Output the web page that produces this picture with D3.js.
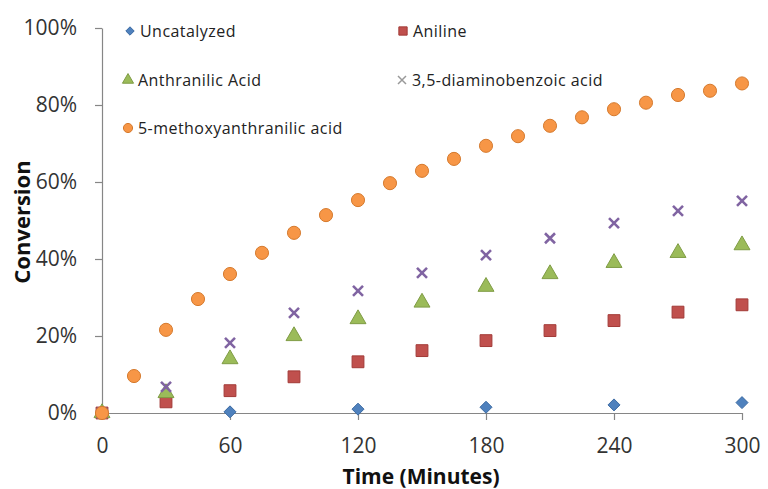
<!DOCTYPE html>
<html><head><meta charset="utf-8">
<script src="https://cdn.jsdelivr.net/npm/d3@7"></script>
<style>body{margin:0;background:#fff}svg{display:block}</style>
</head><body>
<svg id="c" width="768" height="489"></svg>
<script>
const xTicks = [0, 60, 120, 180, 240, 300];
const yTicks = [0, 0.2, 0.4, 0.6, 0.8, 1.0];
const seriesNames = ["Uncatalyzed", "Aniline", "Anthranilic Acid", "3,5-diaminobenzoic acid", "5-methoxyanthranilic acid"];
const uncatT = [0, 60, 120, 180, 240, 300];
const uncatV = [0, 0.003, 0.010, 0.015, 0.021, 0.027];
const t30 = [0, 30, 60, 90, 120, 150, 180, 210, 240, 270, 300];
const anilineV = [0, 0.029, 0.058, 0.094, 0.133, 0.162, 0.188, 0.214, 0.240, 0.262, 0.281];
const anthranilicV = [0, 0.052, 0.140, 0.200, 0.244, 0.287, 0.328, 0.361, 0.390, 0.416, 0.436];
const diaminoV = [0, 0.068, 0.182, 0.260, 0.317, 0.364, 0.410, 0.454, 0.493, 0.525, 0.551];
const t15 = [0, 15, 30, 45, 60, 75, 90, 105, 120, 135, 150, 165, 180, 195, 210, 225, 240, 255, 270, 285, 300];
const methoxyV = [0, 0.096, 0.216, 0.296, 0.361, 0.416, 0.468, 0.514, 0.553, 0.597, 0.629, 0.660, 0.694, 0.719, 0.746, 0.768, 0.789, 0.806, 0.826, 0.837, 0.856];

const svg = d3.select("#c");
const x = d3.scaleLinear().domain([0, 300]).range([102, 742]);
const y = d3.scaleLinear().domain([0, 1]).range([413, 28]);
const font = "'Open Sans', sans-serif";

const xAxis = svg.append("g").attr("transform", "translate(0,413)")
  .call(d3.axisBottom(x).tickValues(xTicks).tickSize(7).tickSizeOuter(0).tickFormat(d3.format("d")));
const yAxis = svg.append("g").attr("transform", "translate(102,0)")
  .call(d3.axisLeft(y).tickValues(yTicks).tickSize(7).tickSizeOuter(0).tickFormat(d3.format(".0%")));
[xAxis, yAxis].forEach(g => {
  g.selectAll("path,line").attr("stroke", "#868686").attr("stroke-width", 1.2);
  g.selectAll("text").attr("fill", "#333").style("font-family", font).style("font-size", "21px");
});
xAxis.selectAll("text").attr("y", 25).attr("dy", "0.71em");
yAxis.selectAll("text").attr("x", -25);

svg.append("text").attr("x", 421).attr("y", 484).attr("text-anchor", "middle")
  .style("font-family", font).style("font-weight", "bold").style("font-size", "21px").attr("fill", "#111")
  .text("Time (Minutes)");
svg.append("text").attr("transform", "translate(30,222) rotate(-90)").attr("text-anchor", "middle")
  .style("font-family", font).style("font-weight", "bold").style("font-size", "22px").attr("fill", "#111")
  .text("Conversion");

const colors = ["#4F81BD", "#C0504D", "#9BBB59", "#8064A2", "#F79646"];
const strokes = ["#3b6aa3", "#a23a37", "#7f9c45", "#5f4a85", "#d57a2e"];
const symbols = [null, d3.symbolSquare, d3.symbolTriangle, null, d3.symbolCircle];
const sizes = [0, 140, 110, 0, 135];

function drawMarker(g, i, cx, cy, scale) {
  const s = scale || 1;
  if (i === 3) {
    const r = 5 * s;
    g.append("path").attr("d", `M${cx - r},${cy - r}L${cx + r},${cy + r}M${cx - r},${cy + r}L${cx + r},${cy - r}`)
      .attr("stroke", colors[3]).attr("stroke-width", 2.6 * s).attr("fill", "none");
  } else if (i === 0) {
    const r = 6 * s;
    g.append("path").attr("d", `M${cx},${cy - r}L${cx + r},${cy}L${cx},${cy + r}L${cx - r},${cy}Z`)
      .attr("fill", colors[0]).attr("stroke", strokes[0]).attr("stroke-width", 1);
  } else {
    const sym = d3.symbol().type(symbols[i]).size(sizes[i] * s * s);
    g.append("path").attr("d", sym()).attr("transform", `translate(${cx},${cy})`)
      .attr("fill", colors[i]).attr("stroke", strokes[i]).attr("stroke-width", 1);
  }
}

const data = [
  uncatT.map((t, k) => [t, uncatV[k]]),
  t30.map((t, k) => [t, anilineV[k]]),
  t30.map((t, k) => [t, anthranilicV[k]]),
  t30.map((t, k) => [t, diaminoV[k]]),
  t15.map((t, k) => [t, methoxyV[k]])
];
const marks = svg.append("g");
data.forEach((pts, i) => {
  const g = marks.append("g");
  pts.forEach(p => drawMarker(g, i, x(p[0]), y(p[1])));
});

// legend
const legendPos = [[130, 31], [403, 31], [128, 80], [402, 80], [128, 128]];
const leg = svg.append("g");
seriesNames.forEach((n, i) => {
  const [lx, ly] = legendPos[i];
  const gg = leg.append("g");
  if (i === 3) {
    const r = 4;
    gg.append("path").attr("d", `M${lx - r},${ly - r}L${lx + r},${ly + r}M${lx - r},${ly + r}L${lx + r},${ly - r}`)
      .attr("stroke", "#999").attr("stroke-width", 1.5).attr("fill", "none");
  } else {
    drawMarker(gg, i, lx, ly, 0.7);
  }
  gg.append("text").attr("x", lx + 10).attr("y", ly + 5.5).style("font-family", font).style("font-size", "16px")
    .style("letter-spacing", "0.45px").attr("fill", "#222").text(n);
});
</script>
</body></html>
